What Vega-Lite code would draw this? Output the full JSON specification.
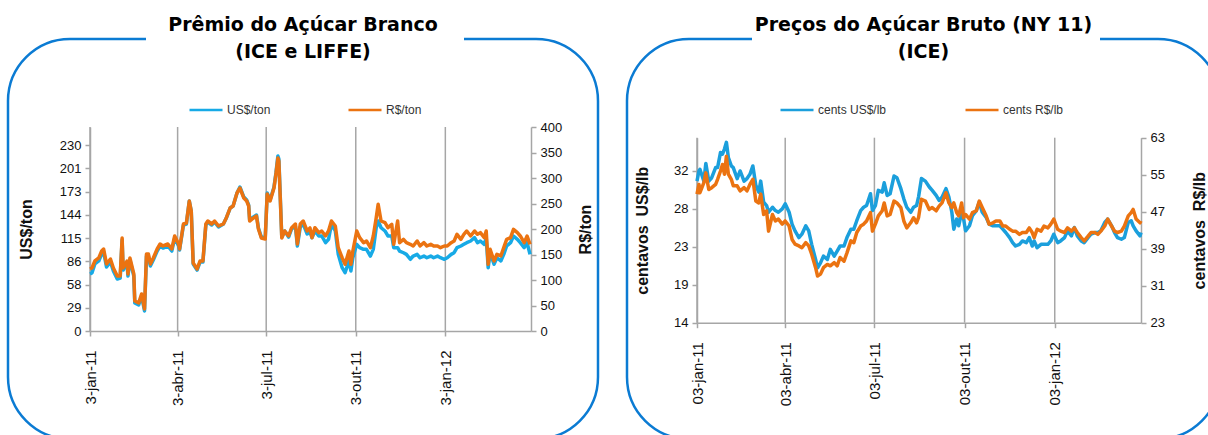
{
  "$schema": "https://vega.github.io/schema/vega-lite/v6.json",
  "background": "white",
  "padding": {"left": 6, "top": 14, "right": 0, "bottom": 0},
  "autosize": {"type": "pad"},
  "spacing": 25,
  "datasets": {
    "ticks": [
      {"date": "2011-01-03"}, {"date": "2011-04-03"}, {"date": "2011-07-03"}, {"date": "2011-10-03"}, {"date": "2012-01-03"}
    ],
    "left": [
      {"date": "2011-01-03", "usd": 70.5, "brl": 121.6},
      {"date": "2011-01-05", "usd": 71.7, "brl": 123.5},
      {"date": "2011-01-08", "usd": 82.9, "brl": 137.3},
      {"date": "2011-01-12", "usd": 86.6, "brl": 143.2},
      {"date": "2011-01-15", "usd": 95.2, "brl": 156.9},
      {"date": "2011-01-17", "usd": 97.7, "brl": 160.8},
      {"date": "2011-01-20", "usd": 79.1, "brl": 131.4},
      {"date": "2011-01-24", "usd": 85.3, "brl": 141.2},
      {"date": "2011-01-27", "usd": 74.2, "brl": 123.5},
      {"date": "2011-01-31", "usd": 64.3, "brl": 107.9},
      {"date": "2011-02-03", "usd": 65.5, "brl": 107.9},
      {"date": "2011-02-05", "usd": 112.5, "brl": 182.4},
      {"date": "2011-02-06", "usd": 75.4, "brl": 123.5},
      {"date": "2011-02-10", "usd": 84.1, "brl": 137.3},
      {"date": "2011-02-11", "usd": 68.0, "brl": 111.8},
      {"date": "2011-02-13", "usd": 87.8, "brl": 143.2},
      {"date": "2011-02-17", "usd": 68.0, "brl": 111.8},
      {"date": "2011-02-18", "usd": 34.6, "brl": 58.8},
      {"date": "2011-02-22", "usd": 32.2, "brl": 54.9},
      {"date": "2011-02-25", "usd": 43.3, "brl": 72.6},
      {"date": "2011-02-28", "usd": 24.7, "brl": 43.1},
      {"date": "2011-03-02", "usd": 92.7, "brl": 151.0},
      {"date": "2011-03-04", "usd": 92.7, "brl": 151.0},
      {"date": "2011-03-06", "usd": 80.4, "brl": 131.4},
      {"date": "2011-03-09", "usd": 87.8, "brl": 143.2},
      {"date": "2011-03-13", "usd": 98.9, "brl": 160.8},
      {"date": "2011-03-16", "usd": 105.1, "brl": 170.6},
      {"date": "2011-03-19", "usd": 102.6, "brl": 166.7},
      {"date": "2011-03-24", "usd": 105.1, "brl": 170.6},
      {"date": "2011-03-28", "usd": 98.9, "brl": 160.8},
      {"date": "2011-03-31", "usd": 115.0, "brl": 186.3},
      {"date": "2011-04-04", "usd": 105.1, "brl": 170.6},
      {"date": "2011-04-05", "usd": 100.2, "brl": 160.8},
      {"date": "2011-04-09", "usd": 131.1, "brl": 209.8},
      {"date": "2011-04-12", "usd": 132.3, "brl": 211.8},
      {"date": "2011-04-15", "usd": 160.8, "brl": 254.9},
      {"date": "2011-04-17", "usd": 148.4, "brl": 235.3},
      {"date": "2011-04-19", "usd": 82.9, "brl": 133.3},
      {"date": "2011-04-23", "usd": 75.4, "brl": 121.6},
      {"date": "2011-04-26", "usd": 85.3, "brl": 137.3},
      {"date": "2011-04-29", "usd": 85.3, "brl": 137.3},
      {"date": "2011-05-02", "usd": 131.1, "brl": 209.8},
      {"date": "2011-05-04", "usd": 134.8, "brl": 215.7},
      {"date": "2011-05-08", "usd": 131.1, "brl": 209.8},
      {"date": "2011-05-11", "usd": 134.8, "brl": 215.7},
      {"date": "2011-05-15", "usd": 128.6, "brl": 205.9},
      {"date": "2011-05-20", "usd": 132.3, "brl": 209.8},
      {"date": "2011-05-23", "usd": 139.7, "brl": 221.6},
      {"date": "2011-05-27", "usd": 152.1, "brl": 241.2},
      {"date": "2011-05-30", "usd": 154.6, "brl": 245.1},
      {"date": "2011-06-03", "usd": 170.7, "brl": 270.6},
      {"date": "2011-06-06", "usd": 178.1, "brl": 280.4},
      {"date": "2011-06-10", "usd": 165.7, "brl": 260.8},
      {"date": "2011-06-13", "usd": 162.0, "brl": 254.9},
      {"date": "2011-06-15", "usd": 155.8, "brl": 245.1},
      {"date": "2011-06-16", "usd": 137.3, "brl": 215.7},
      {"date": "2011-06-20", "usd": 141.0, "brl": 221.6},
      {"date": "2011-06-23", "usd": 143.4, "brl": 225.5},
      {"date": "2011-06-25", "usd": 127.4, "brl": 200.0},
      {"date": "2011-06-28", "usd": 116.2, "brl": 182.4},
      {"date": "2011-07-02", "usd": 115.0, "brl": 180.4},
      {"date": "2011-07-04", "usd": 170.7, "brl": 268.7},
      {"date": "2011-07-07", "usd": 162.0, "brl": 254.9},
      {"date": "2011-07-11", "usd": 178.1, "brl": 280.4},
      {"date": "2011-07-13", "usd": 195.4, "brl": 307.9},
      {"date": "2011-07-15", "usd": 216.4, "brl": 339.3},
      {"date": "2011-07-16", "usd": 212.7, "brl": 333.4},
      {"date": "2011-07-19", "usd": 116.2, "brl": 182.4},
      {"date": "2011-07-22", "usd": 123.7, "brl": 196.1},
      {"date": "2011-07-26", "usd": 116.2, "brl": 186.3},
      {"date": "2011-07-29", "usd": 126.1, "brl": 202.0},
      {"date": "2011-08-02", "usd": 129.8, "brl": 209.8},
      {"date": "2011-08-04", "usd": 105.1, "brl": 170.6},
      {"date": "2011-08-07", "usd": 128.6, "brl": 209.8},
      {"date": "2011-08-10", "usd": 132.3, "brl": 215.7},
      {"date": "2011-08-14", "usd": 120.0, "brl": 196.1},
      {"date": "2011-08-17", "usd": 122.4, "brl": 202.0},
      {"date": "2011-08-19", "usd": 115.4, "brl": 183.0},
      {"date": "2011-08-22", "usd": 123.7, "brl": 202.6},
      {"date": "2011-08-26", "usd": 117.5, "brl": 192.8},
      {"date": "2011-08-29", "usd": 117.5, "brl": 196.1},
      {"date": "2011-09-02", "usd": 109.2, "brl": 186.3},
      {"date": "2011-09-05", "usd": 113.4, "brl": 196.1},
      {"date": "2011-09-08", "usd": 131.9, "brl": 215.7},
      {"date": "2011-09-12", "usd": 123.7, "brl": 205.9},
      {"date": "2011-09-15", "usd": 94.8, "brl": 163.4},
      {"date": "2011-09-19", "usd": 78.3, "brl": 143.7},
      {"date": "2011-09-22", "usd": 72.1, "brl": 130.8},
      {"date": "2011-09-26", "usd": 86.6, "brl": 156.9},
      {"date": "2011-09-28", "usd": 74.2, "brl": 130.8},
      {"date": "2011-09-30", "usd": 90.6, "brl": 156.9},
      {"date": "2011-10-04", "usd": 107.2, "brl": 196.1},
      {"date": "2011-10-07", "usd": 103.0, "brl": 183.0},
      {"date": "2011-10-11", "usd": 101.0, "brl": 173.2},
      {"date": "2011-10-14", "usd": 101.0, "brl": 176.5},
      {"date": "2011-10-18", "usd": 92.7, "brl": 163.4},
      {"date": "2011-10-21", "usd": 101.0, "brl": 186.3},
      {"date": "2011-10-24", "usd": 127.7, "brl": 222.2},
      {"date": "2011-10-26", "usd": 136.0, "brl": 248.5},
      {"date": "2011-10-29", "usd": 127.7, "brl": 215.7},
      {"date": "2011-11-02", "usd": 123.7, "brl": 212.4},
      {"date": "2011-11-05", "usd": 117.5, "brl": 202.6},
      {"date": "2011-11-09", "usd": 117.5, "brl": 209.2},
      {"date": "2011-11-11", "usd": 103.0, "brl": 170.0},
      {"date": "2011-11-15", "usd": 103.0, "brl": 215.7},
      {"date": "2011-11-17", "usd": 98.9, "brl": 173.2},
      {"date": "2011-11-21", "usd": 96.8, "brl": 179.8},
      {"date": "2011-11-24", "usd": 94.8, "brl": 173.2},
      {"date": "2011-11-28", "usd": 88.7, "brl": 170.0},
      {"date": "2011-12-01", "usd": 92.7, "brl": 166.7},
      {"date": "2011-12-05", "usd": 94.8, "brl": 176.5},
      {"date": "2011-12-08", "usd": 90.6, "brl": 166.7},
      {"date": "2011-12-12", "usd": 92.7, "brl": 173.2},
      {"date": "2011-12-15", "usd": 90.6, "brl": 166.7},
      {"date": "2011-12-19", "usd": 92.7, "brl": 170.0},
      {"date": "2011-12-22", "usd": 90.6, "brl": 166.7},
      {"date": "2011-12-26", "usd": 92.7, "brl": 166.7},
      {"date": "2011-12-29", "usd": 90.6, "brl": 163.4},
      {"date": "2012-01-02", "usd": 88.7, "brl": 166.7},
      {"date": "2012-01-05", "usd": 90.6, "brl": 166.7},
      {"date": "2012-01-09", "usd": 94.8, "brl": 173.2},
      {"date": "2012-01-12", "usd": 96.8, "brl": 176.5},
      {"date": "2012-01-15", "usd": 103.0, "brl": 189.6},
      {"date": "2012-01-19", "usd": 105.1, "brl": 179.8},
      {"date": "2012-01-22", "usd": 107.2, "brl": 189.6},
      {"date": "2012-01-25", "usd": 109.2, "brl": 196.1},
      {"date": "2012-01-29", "usd": 111.3, "brl": 186.3},
      {"date": "2012-02-02", "usd": 115.4, "brl": 196.1},
      {"date": "2012-02-05", "usd": 109.2, "brl": 189.6},
      {"date": "2012-02-08", "usd": 111.3, "brl": 192.8},
      {"date": "2012-02-12", "usd": 107.2, "brl": 183.0},
      {"date": "2012-02-14", "usd": 115.4, "brl": 196.1},
      {"date": "2012-02-16", "usd": 78.3, "brl": 130.8},
      {"date": "2012-02-18", "usd": 96.8, "brl": 160.2},
      {"date": "2012-02-22", "usd": 82.5, "brl": 137.3},
      {"date": "2012-02-25", "usd": 90.6, "brl": 150.4},
      {"date": "2012-02-29", "usd": 86.6, "brl": 147.1},
      {"date": "2012-03-03", "usd": 94.8, "brl": 163.4},
      {"date": "2012-03-06", "usd": 105.1, "brl": 179.8},
      {"date": "2012-03-10", "usd": 109.2, "brl": 183.0},
      {"date": "2012-03-13", "usd": 117.5, "brl": 199.4},
      {"date": "2012-03-17", "usd": 113.4, "brl": 192.8},
      {"date": "2012-03-20", "usd": 109.2, "brl": 186.3},
      {"date": "2012-03-24", "usd": 103.0, "brl": 173.2},
      {"date": "2012-03-27", "usd": 109.2, "brl": 186.3},
      {"date": "2012-03-30", "usd": 94.8, "brl": 170.0}
    ],
    "right": [
      {"date": "2011-01-03", "usd": 30.8, "brl": 50.8},
      {"date": "2011-01-05", "usd": 32.0, "brl": 52.9},
      {"date": "2011-01-06", "usd": 32.2, "brl": 51.1},
      {"date": "2011-01-10", "usd": 30.8, "brl": 53.3},
      {"date": "2011-01-12", "usd": 32.9, "brl": 55.4},
      {"date": "2011-01-15", "usd": 30.8, "brl": 51.8},
      {"date": "2011-01-18", "usd": 31.2, "brl": 52.2},
      {"date": "2011-01-22", "usd": 32.4, "brl": 52.9},
      {"date": "2011-01-24", "usd": 32.4, "brl": 54.0},
      {"date": "2011-01-27", "usd": 34.2, "brl": 55.8},
      {"date": "2011-01-29", "usd": 34.0, "brl": 57.2},
      {"date": "2011-01-31", "usd": 34.6, "brl": 55.1},
      {"date": "2011-02-02", "usd": 35.4, "brl": 59.0},
      {"date": "2011-02-04", "usd": 33.6, "brl": 55.1},
      {"date": "2011-02-07", "usd": 32.6, "brl": 54.0},
      {"date": "2011-02-09", "usd": 32.4, "brl": 52.6},
      {"date": "2011-02-13", "usd": 31.1, "brl": 52.6},
      {"date": "2011-02-16", "usd": 32.0, "brl": 51.5},
      {"date": "2011-02-20", "usd": 30.8, "brl": 52.2},
      {"date": "2011-02-23", "usd": 31.1, "brl": 51.5},
      {"date": "2011-02-26", "usd": 31.6, "brl": 52.9},
      {"date": "2011-03-01", "usd": 32.6, "brl": 54.0},
      {"date": "2011-03-04", "usd": 30.3, "brl": 49.3},
      {"date": "2011-03-07", "usd": 29.5, "brl": 48.9},
      {"date": "2011-03-09", "usd": 30.8, "brl": 50.8},
      {"date": "2011-03-12", "usd": 28.3, "brl": 46.4},
      {"date": "2011-03-15", "usd": 27.9, "brl": 47.2},
      {"date": "2011-03-17", "usd": 27.1, "brl": 42.8},
      {"date": "2011-03-21", "usd": 27.7, "brl": 46.4},
      {"date": "2011-03-24", "usd": 27.3, "brl": 45.0},
      {"date": "2011-03-27", "usd": 27.1, "brl": 45.4},
      {"date": "2011-03-31", "usd": 27.5, "brl": 44.3},
      {"date": "2011-04-03", "usd": 28.1, "brl": 45.0},
      {"date": "2011-04-07", "usd": 27.1, "brl": 43.9},
      {"date": "2011-04-10", "usd": 25.7, "brl": 41.0},
      {"date": "2011-04-13", "usd": 24.9, "brl": 40.0},
      {"date": "2011-04-17", "usd": 24.1, "brl": 39.6},
      {"date": "2011-04-20", "usd": 24.5, "brl": 39.2},
      {"date": "2011-04-24", "usd": 25.5, "brl": 40.3},
      {"date": "2011-04-27", "usd": 24.9, "brl": 39.6},
      {"date": "2011-04-30", "usd": 23.3, "brl": 37.8},
      {"date": "2011-05-04", "usd": 21.5, "brl": 34.9},
      {"date": "2011-05-06", "usd": 20.5, "brl": 33.1},
      {"date": "2011-05-09", "usd": 21.1, "brl": 33.5},
      {"date": "2011-05-12", "usd": 21.9, "brl": 34.9},
      {"date": "2011-05-16", "usd": 21.5, "brl": 35.6},
      {"date": "2011-05-19", "usd": 22.7, "brl": 35.3},
      {"date": "2011-05-23", "usd": 21.9, "brl": 36.0},
      {"date": "2011-05-26", "usd": 22.5, "brl": 35.3},
      {"date": "2011-05-29", "usd": 23.1, "brl": 37.1},
      {"date": "2011-06-02", "usd": 23.1, "brl": 36.3},
      {"date": "2011-06-05", "usd": 24.1, "brl": 38.1},
      {"date": "2011-06-09", "usd": 25.1, "brl": 40.7},
      {"date": "2011-06-12", "usd": 25.1, "brl": 40.3},
      {"date": "2011-06-15", "usd": 26.1, "brl": 42.5},
      {"date": "2011-06-19", "usd": 27.3, "brl": 43.9},
      {"date": "2011-06-22", "usd": 27.7, "brl": 44.3},
      {"date": "2011-06-25", "usd": 27.9, "brl": 45.0},
      {"date": "2011-06-29", "usd": 29.3, "brl": 46.8},
      {"date": "2011-07-01", "usd": 27.3, "brl": 42.8},
      {"date": "2011-07-04", "usd": 27.9, "brl": 44.3},
      {"date": "2011-07-07", "usd": 29.7, "brl": 46.1},
      {"date": "2011-07-11", "usd": 29.5, "brl": 47.2},
      {"date": "2011-07-13", "usd": 30.6, "brl": 48.9},
      {"date": "2011-07-16", "usd": 29.1, "brl": 46.1},
      {"date": "2011-07-19", "usd": 29.3, "brl": 46.4},
      {"date": "2011-07-23", "usd": 31.4, "brl": 49.3},
      {"date": "2011-07-26", "usd": 31.2, "brl": 48.9},
      {"date": "2011-07-30", "usd": 29.9, "brl": 47.9},
      {"date": "2011-08-02", "usd": 28.7, "brl": 45.0},
      {"date": "2011-08-05", "usd": 27.7, "brl": 43.5},
      {"date": "2011-08-09", "usd": 27.1, "brl": 44.6},
      {"date": "2011-08-12", "usd": 27.7, "brl": 45.7},
      {"date": "2011-08-15", "usd": 27.9, "brl": 44.6},
      {"date": "2011-08-17", "usd": 28.9, "brl": 45.7},
      {"date": "2011-08-20", "usd": 31.1, "brl": 49.7},
      {"date": "2011-08-24", "usd": 30.8, "brl": 49.3},
      {"date": "2011-08-28", "usd": 30.1, "brl": 47.5},
      {"date": "2011-08-31", "usd": 29.7, "brl": 47.9},
      {"date": "2011-09-04", "usd": 29.1, "brl": 47.2},
      {"date": "2011-09-07", "usd": 28.5, "brl": 48.2},
      {"date": "2011-09-10", "usd": 28.9, "brl": 48.9},
      {"date": "2011-09-14", "usd": 29.9, "brl": 51.1},
      {"date": "2011-09-17", "usd": 28.9, "brl": 48.9},
      {"date": "2011-09-20", "usd": 27.1, "brl": 47.9},
      {"date": "2011-09-22", "usd": 25.1, "brl": 48.9},
      {"date": "2011-09-25", "usd": 26.3, "brl": 46.8},
      {"date": "2011-09-27", "usd": 25.5, "brl": 46.1},
      {"date": "2011-09-30", "usd": 27.1, "brl": 48.9},
      {"date": "2011-10-02", "usd": 26.3, "brl": 45.7},
      {"date": "2011-10-04", "usd": 24.9, "brl": 46.4},
      {"date": "2011-10-08", "usd": 25.5, "brl": 45.4},
      {"date": "2011-10-11", "usd": 26.7, "brl": 46.8},
      {"date": "2011-10-15", "usd": 27.3, "brl": 47.2},
      {"date": "2011-10-18", "usd": 28.3, "brl": 49.3},
      {"date": "2011-10-21", "usd": 27.1, "brl": 47.9},
      {"date": "2011-10-25", "usd": 26.5, "brl": 46.1},
      {"date": "2011-10-28", "usd": 25.7, "brl": 44.3},
      {"date": "2011-11-01", "usd": 25.5, "brl": 44.6},
      {"date": "2011-11-04", "usd": 25.5, "brl": 45.0},
      {"date": "2011-11-08", "usd": 25.5, "brl": 45.0},
      {"date": "2011-11-11", "usd": 25.1, "brl": 43.9},
      {"date": "2011-11-14", "usd": 24.7, "brl": 43.9},
      {"date": "2011-11-18", "usd": 24.1, "brl": 43.2},
      {"date": "2011-11-21", "usd": 23.5, "brl": 42.8},
      {"date": "2011-11-24", "usd": 23.1, "brl": 42.8},
      {"date": "2011-11-28", "usd": 23.3, "brl": 42.1},
      {"date": "2011-12-01", "usd": 23.7, "brl": 42.5},
      {"date": "2011-12-05", "usd": 23.5, "brl": 42.5},
      {"date": "2011-12-08", "usd": 24.1, "brl": 43.5},
      {"date": "2011-12-11", "usd": 23.1, "brl": 42.5},
      {"date": "2011-12-13", "usd": 23.7, "brl": 41.4},
      {"date": "2011-12-16", "usd": 22.9, "brl": 43.2},
      {"date": "2011-12-20", "usd": 23.3, "brl": 42.8},
      {"date": "2011-12-23", "usd": 23.3, "brl": 43.9},
      {"date": "2011-12-27", "usd": 23.3, "brl": 43.5},
      {"date": "2011-12-30", "usd": 23.7, "brl": 44.3},
      {"date": "2012-01-02", "usd": 24.5, "brl": 45.4},
      {"date": "2012-01-06", "usd": 23.5, "brl": 43.2},
      {"date": "2012-01-09", "usd": 23.7, "brl": 42.8},
      {"date": "2012-01-13", "usd": 24.1, "brl": 42.5},
      {"date": "2012-01-16", "usd": 24.9, "brl": 43.5},
      {"date": "2012-01-20", "usd": 24.3, "brl": 42.8},
      {"date": "2012-01-23", "usd": 25.3, "brl": 43.5},
      {"date": "2012-01-26", "usd": 24.3, "brl": 42.5},
      {"date": "2012-01-30", "usd": 23.7, "brl": 41.4},
      {"date": "2012-02-02", "usd": 23.5, "brl": 40.7},
      {"date": "2012-02-06", "usd": 24.1, "brl": 41.7},
      {"date": "2012-02-09", "usd": 24.5, "brl": 42.5},
      {"date": "2012-02-13", "usd": 24.7, "brl": 42.5},
      {"date": "2012-02-16", "usd": 24.7, "brl": 42.1},
      {"date": "2012-02-19", "usd": 24.9, "brl": 42.8},
      {"date": "2012-02-23", "usd": 25.9, "brl": 43.9},
      {"date": "2012-02-26", "usd": 26.3, "brl": 45.4},
      {"date": "2012-03-01", "usd": 25.5, "brl": 43.9},
      {"date": "2012-03-04", "usd": 24.7, "brl": 42.8},
      {"date": "2012-03-07", "usd": 24.1, "brl": 42.5},
      {"date": "2012-03-11", "usd": 23.9, "brl": 42.8},
      {"date": "2012-03-14", "usd": 24.1, "brl": 43.9},
      {"date": "2012-03-18", "usd": 25.9, "brl": 46.1},
      {"date": "2012-03-21", "usd": 26.1, "brl": 46.8},
      {"date": "2012-03-23", "usd": 25.5, "brl": 47.5},
      {"date": "2012-03-26", "usd": 24.9, "brl": 45.4},
      {"date": "2012-03-30", "usd": 24.3, "brl": 44.6},
      {"date": "2012-03-31", "usd": 24.7, "brl": 45.0}
    ]
  },
  "hconcat": [
    {
      "width": 590,
      "height": 400,
      "view": {"stroke": "#0B7BD3", "strokeWidth": 2.5, "cornerRadius": 62, "strokeDash": [76, 318, 10000, 0], "fill": null},
      "title": {"text": ["Prêmio do Açúcar Branco", "(ICE e LIFFE)"]},
      "encoding": {
        "x": {
          "field": "date", "type": "temporal",
          "scale": {"domain": [{"year": 2011, "month": 1, "date": 3, "utc": true}, {"year": 2012, "month": 3, "date": 31, "utc": true}], "range": [82, 523]},
          "axis": {
            "title": null, "offset": -108, "labelAngle": -90, "labelPadding": 14, "tickSize": 5, "labelFontSize": 15,
            "values": [{"year": 2011, "month": 1, "date": 3, "utc": true}, {"year": 2011, "month": 4, "date": 3, "utc": true}, {"year": 2011, "month": 7, "date": 3, "utc": true}, {"year": 2011, "month": 10, "date": 3, "utc": true}, {"year": 2012, "month": 1, "date": 3, "utc": true}],
            "labelExpr": "utcdate(datum.value) + '-' + ['jan','fev','mar','abr','mai','jun','jul','ago','set','out','nov','dez'][utcmonth(datum.value)] + '-' + utcFormat(datum.value, '%y')"
          }
        }
      },
      "layer": [
        {
          "layer": [
            {
              "data": {"name": "ticks"},
              "mark": {"type": "rule", "color": "#A6A6A6", "strokeWidth": 1.5},
              "encoding": {
                "y": {
                  "datum": 0, "type": "quantitative",
                  "scale": {"domain": [0, 252.3], "range": [292, 88], "nice": false, "zero": false},
                  "axis": {"orient": "left", "offset": -82, "title": "US$/ton", "titlePadding": 25, "format": ".0f", "values": [0, 28.75, 57.5, 86.25, 115, 143.75, 172.5, 201.25, 230]}
                },
                "y2": {"datum": 252.3}
              }
            },
            {
              "data": {"name": "left"},
              "mark": {"type": "line", "strokeWidth": 3.5, "strokeJoin": "round"},
              "encoding": {
                "y": {
                  "field": "usd", "type": "quantitative",
                  "scale": {"domain": [0, 252.3], "range": [292, 88], "nice": false, "zero": false},
                  "axis": {"orient": "left", "offset": -82, "title": "US$/ton", "titlePadding": 25, "format": ".0f", "values": [0, 28.75, 57.5, 86.25, 115, 143.75, 172.5, 201.25, 230]}
                },
                "color": {
                  "datum": "US$/ton",
                  "scale": {"domain": ["US$/ton", "R$/ton"], "range": ["#17AAE6", "#EB7311"]},
                  "legend": {"orient": "none", "legendX": 180, "legendY": 53, "direction": "horizontal", "columnPadding": 72}
                }
              }
            }
          ]
        },
        {
          "data": {"name": "left"},
          "mark": {"type": "line", "strokeWidth": 3.5, "strokeJoin": "round"},
          "encoding": {
            "y": {
              "field": "brl", "type": "quantitative",
              "scale": {"domain": [0, 400], "range": [292, 88], "nice": false, "zero": false},
              "axis": {"orient": "right", "offset": -67, "title": "R$/ton", "titleAngle": -90, "titleBaseline": "top", "titlePadding": 16, "values": [0, 50, 100, 150, 200, 250, 300, 350, 400]}
            },
            "color": {"datum": "R$/ton"}
          }
        }
      ],
      "resolve": {"scale": {"y": "independent"}, "axis": {"y": "independent"}}
    },
    {
      "width": 593,
      "height": 400,
      "view": {"stroke": "#0B7BD3", "strokeWidth": 2.5, "cornerRadius": 62, "strokeDash": [63, 348, 10000, 0], "fill": null},
      "title": {"text": ["Preços do Açúcar Bruto (NY 11)", "(ICE)"]},
      "encoding": {
        "x": {
          "field": "date", "type": "temporal",
          "scale": {"domain": [{"year": 2011, "month": 1, "date": 3, "utc": true}, {"year": 2012, "month": 3, "date": 31, "utc": true}], "range": [70, 514]},
          "axis": {
            "title": null, "offset": -116.3, "labelAngle": -90, "labelPadding": 14, "tickSize": 5, "labelFontSize": 15,
            "values": [{"year": 2011, "month": 1, "date": 3, "utc": true}, {"year": 2011, "month": 4, "date": 3, "utc": true}, {"year": 2011, "month": 7, "date": 3, "utc": true}, {"year": 2011, "month": 10, "date": 3, "utc": true}, {"year": 2012, "month": 1, "date": 3, "utc": true}],
            "labelExpr": "utcFormat(datum.value, '%d') + '-' + ['jan','fev','mar','abr','mai','jun','jul','ago','set','out','nov','dez'][utcmonth(datum.value)] + '-' + utcFormat(datum.value, '%y')"
          }
        }
      },
      "layer": [
        {
          "layer": [
            {
              "data": {"name": "ticks"},
              "mark": {"type": "rule", "color": "#A6A6A6", "strokeWidth": 1.5},
              "encoding": {
                "y": {
                  "datum": 14, "type": "quantitative",
                  "scale": {"domain": [14, 35.95], "range": [283.7, 98.7], "nice": false, "zero": false},
                  "axis": {"orient": "left", "offset": -70, "title": "centavos\u00a0\u00a0US$/lb", "titlePadding": 23, "format": ".0f", "values": [14, 18.5, 23, 27.5, 32]}
                },
                "y2": {"datum": 35.95}
              }
            },
            {
              "data": {"name": "right"},
              "mark": {"type": "line", "strokeWidth": 3.5, "strokeJoin": "round"},
              "encoding": {
                "y": {
                  "field": "usd", "type": "quantitative",
                  "scale": {"domain": [14, 35.95], "range": [283.7, 98.7], "nice": false, "zero": false},
                  "axis": {"orient": "left", "offset": -70, "title": "centavos\u00a0\u00a0US$/lb", "titlePadding": 23, "format": ".0f", "values": [14, 18.5, 23, 27.5, 32]}
                },
                "color": {
                  "datum": "cents US$/lb",
                  "scale": {"domain": ["cents US$/lb", "cents R$/lb"], "range": ["#1B9FDC", "#EB7311"]},
                  "legend": {"orient": "none", "legendX": 152, "legendY": 53, "direction": "horizontal", "columnPadding": 73}
                }
              }
            }
          ]
        },
        {
          "data": {"name": "right"},
          "mark": {"type": "line", "strokeWidth": 3.5, "strokeJoin": "round"},
          "encoding": {
            "y": {
              "field": "brl", "type": "quantitative",
              "scale": {"domain": [23, 63], "range": [283.7, 98.7], "nice": false, "zero": false},
              "axis": {"orient": "right", "offset": -79, "title": "centavos\u00a0\u00a0R$/lb", "titleAngle": -90, "titleBaseline": "top", "titlePadding": 27, "values": [23, 31, 39, 47, 55, 63]}
            },
            "color": {"datum": "cents R$/lb"}
          }
        }
      ],
      "resolve": {"scale": {"y": "independent"}, "axis": {"y": "independent"}}
    }
  ],
  "resolve": {"scale": {"color": "independent"}, "legend": {"color": "independent"}},
  "config": {
    "font": "Liberation Sans",
    "view": {"stroke": null},
    "axis": {
      "grid": false,
      "domainColor": "#A6A6A6", "domainWidth": 1.5,
      "tickColor": "#A6A6A6", "tickWidth": 1.5, "tickSize": 5,
      "labelFont": "Liberation Sans", "labelFontSize": 13, "labelColor": "#111111", "labelPadding": 4,
      "titleFont": "Liberation Sans", "titleFontSize": 16, "titleFontWeight": "bold", "titleColor": "#111111"
    },
    "legend": {
      "title": null, "padding": 0, "symbolType": "stroke", "symbolSize": 1089, "symbolStrokeWidth": 2.5,
      "labelFont": "Liberation Sans", "labelFontSize": 12, "labelColor": "#333333", "labelOffset": 3
    },
    "title": {
      "font": "DejaVu Sans", "fontSize": 19, "fontWeight": "bold", "color": "#000000",
      "lineHeight": 27, "offset": -23, "anchor": "middle"
    }
  }
}
